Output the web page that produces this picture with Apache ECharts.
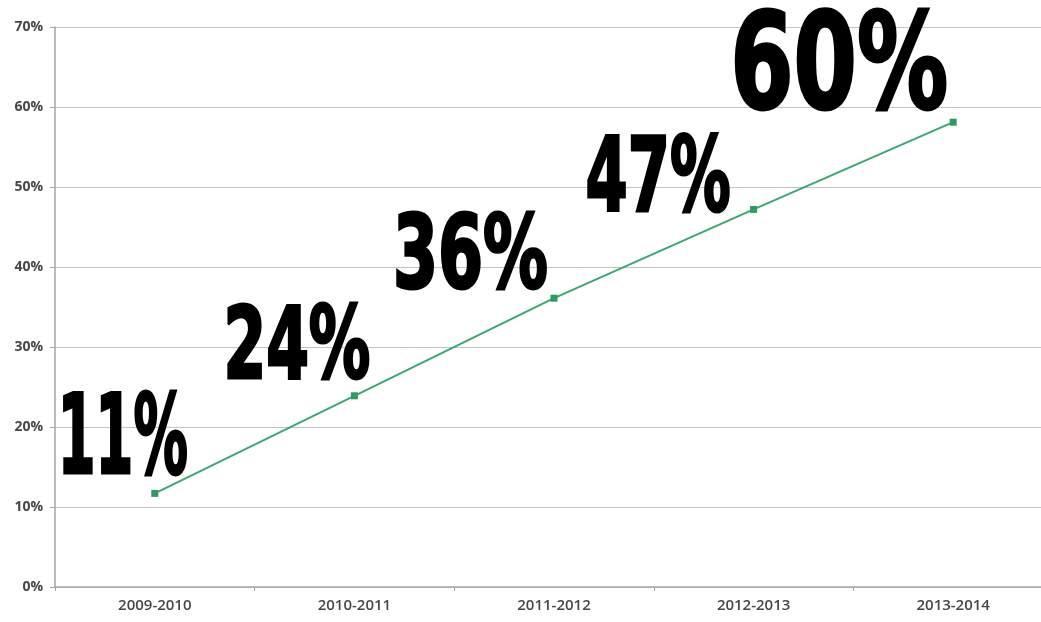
<!DOCTYPE html>
<html>
<head>
<meta charset="utf-8">
<script src="https://cdn.jsdelivr.net/npm/echarts@6/dist/echarts.min.js"></script>
<style>html,body{margin:0;padding:0;background:#fff;overflow:hidden;width:1041px;height:622px;}#c{width:1053px;height:622px;}</style>
</head>
<body>
<div id="c"></div>
<script>
const categories = ['2009-2010', '2010-2011', '2011-2012', '2012-2013', '2013-2014'];
const values = [11.7, 23.9, 36.1, 47.2, 58.1];
const bigLabels = ['11%', '24%', '36%', '47%', '60%'];
const yTicks = { min: 0, max: 70, interval: 10 };

// big label styling: offset of label's left/bottom from its point, font size, target width
const labelDx = [-97, -131, -161, -168, -223];
const labelDy = [-16, -14, -6, 6, -9];
const labelFont = [110, 100, 102, 104, 133];
const labelWidth = [130, 147, 155, 145, 218];
const FONT_FAMILY = '"DejaVu Sans Condensed", "DejaVu Sans", sans-serif';

const measureCtx = document.createElement('canvas').getContext('2d');
function fontStr(fs) { return 'bold ' + fs + 'px ' + FONT_FAMILY; }
function measure(text, fs) { measureCtx.font = fontStr(fs); return measureCtx.measureText(text).width; }

const chart = echarts.init(document.getElementById('c'));
chart.setOption({
  animation: false,
  backgroundColor: '#fff',
  grid: { left: 55, top: 27, right: 0, bottom: 35 },
  xAxis: {
    type: 'category',
    data: categories,
    axisLine: { lineStyle: { color: '#a6a6a6', width: 1.5 } },
    axisTick: { show: true, length: 4, lineStyle: { color: '#a6a6a6' } },
    axisLabel: { color: '#474747', fontFamily: 'Open Sans', fontSize: 15, fontWeight: 600, margin: 11 }
  },
  yAxis: {
    type: 'value',
    min: yTicks.min, max: yTicks.max, interval: yTicks.interval,
    axisLine: { show: true, lineStyle: { color: '#a6a6a6', width: 1.5 } },
    axisTick: { show: true, length: 5, lineStyle: { color: '#a6a6a6' } },
    splitLine: { lineStyle: { color: '#c4c4c4', width: 1 } },
    axisLabel: { formatter: '{value}%', color: '#474747', fontFamily: 'Open Sans', fontSize: 14, fontWeight: 700, margin: 12 }
  },
  series: [{
    type: 'line',
    data: values,
    symbol: 'rect',
    symbolSize: 7,
    itemStyle: { color: '#2f9a63' },
    lineStyle: { color: '#3aa873', width: 2 },
    z: 2
  }, {
    type: 'custom',
    data: values.map((v, i) => [i, v]),
    z: 3,
    renderItem: function (params, api) {
      const i = params.dataIndex;
      const p = api.coord([api.value(0), api.value(1)]);
      const fs = labelFont[i];
      const text = bigLabels[i];
      const sx = labelWidth[i] / measure(text, fs);
      return {
        type: 'text',
        x: p[0] + labelDx[i],
        y: p[1] + labelDy[i] + 0.2 * fs,
        scaleX: sx,
        scaleY: 1,
        style: {
          text: text,
          font: fontStr(fs),
          fill: '#000',
          stroke: '#000',
          lineWidth: 3,
          align: 'left',
          verticalAlign: 'bottom'
        }
      };
    }
  }]
});
</script>
</body>
</html>
